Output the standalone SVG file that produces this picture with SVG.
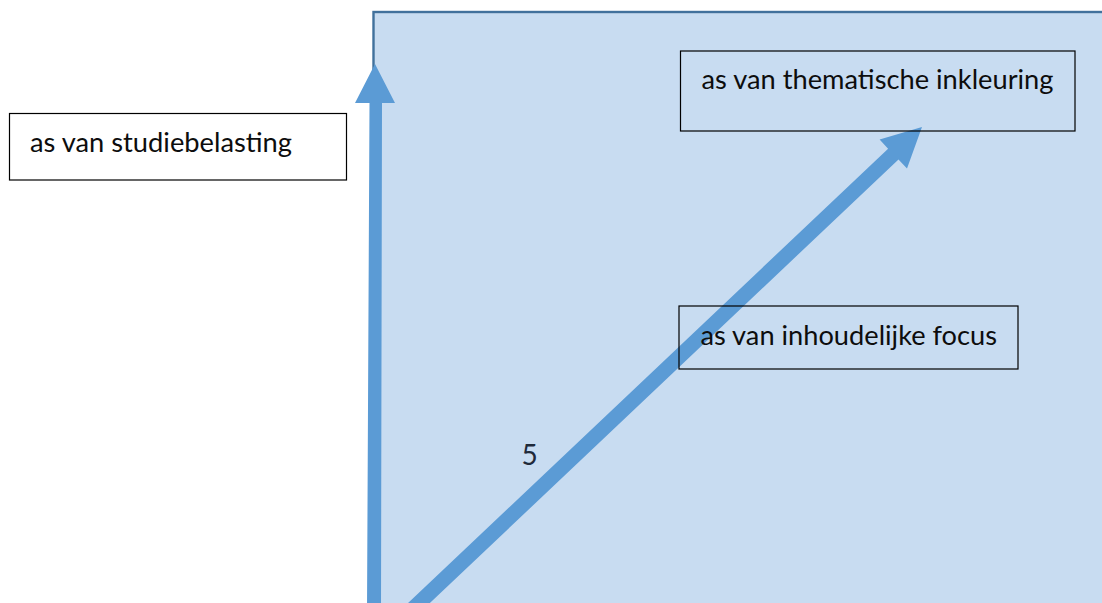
<svg xmlns="http://www.w3.org/2000/svg" width="1102" height="603" viewBox="0 0 1102 603">
  <style>
    .panel { fill: #C8DCF1; stroke: #41719C; stroke-width: 2.4; }
    .axis { fill: #5B9BD5; stroke: none; }
    .box { fill: none; stroke: #000000; stroke-width: 1.2; }
    .box-white { fill: #FFFFFF; stroke: #000000; stroke-width: 1.2; }
    .label { font-family: Lato, "Open Sans", "Liberation Sans", sans-serif; font-size: 27.5px; fill: #0D0D0D; }
    .num { font-family: Lato, "Open Sans", "Liberation Sans", sans-serif; font-size: 28px; fill: #1F2A3A; }
  </style>

  <!-- background -->
  <rect x="0" y="0" width="1102" height="603" fill="#FFFFFF"/>

  <!-- shaded plane -->
  <rect class="panel" x="373.5" y="12" width="760" height="620"/>

  <!-- axes -->
  <g id="connectors">
    <polygon class="axis" points="367,610 369.5,103 355,103 375,64 395,103 382,103 381,610"/>
    <polygon class="axis" points="399.3,611.3 888.1,148.7 879.6,139.6 922,127 907,168.6 898.5,159.5 409.7,622.1"/>
  </g>

  <g id="node-studiebelasting">
    <rect class="box-white" x="9.5" y="113.5" width="337" height="66.5"/>
    <text class="label" x="30" y="152" textLength="262" lengthAdjust="spacingAndGlyphs">as van studiebelasting</text>
  </g>

  <g id="node-thematische-inkleuring">
    <rect class="box" x="680.5" y="51" width="394.5" height="80"/>
    <text class="label" x="701.5" y="88.5" textLength="352" lengthAdjust="spacingAndGlyphs">as van thematische inkleuring</text>
  </g>

  <g id="node-inhoudelijke-focus">
    <rect class="box" x="679" y="306" width="339" height="63"/>
    <text class="label" x="700.5" y="344.5" textLength="296.5" lengthAdjust="spacingAndGlyphs">as van inhoudelijke focus</text>
  </g>

  <g id="label-5">
    <text class="num" x="521.5" y="465">5</text>
  </g>
</svg>
